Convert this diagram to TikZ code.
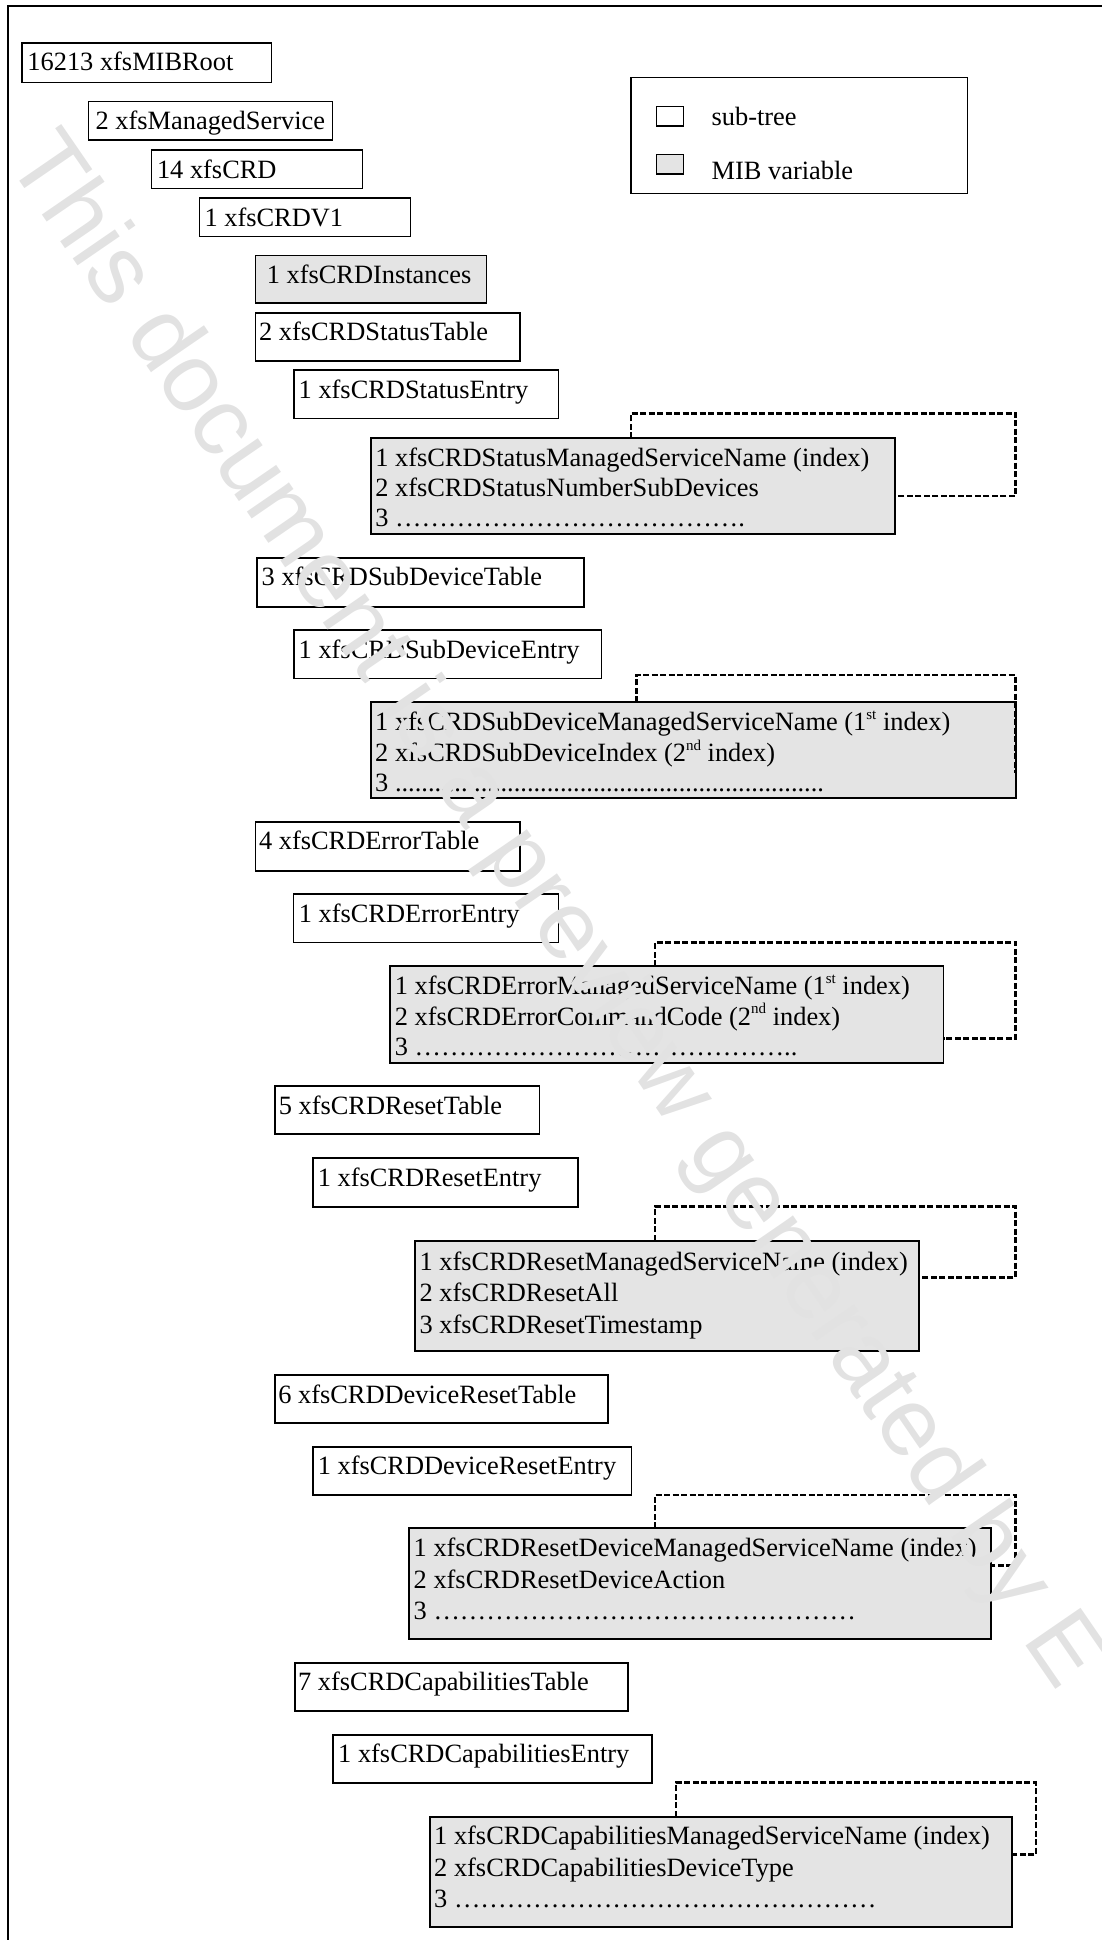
\documentclass[tikz,border=0pt]{standalone}
\usepackage{fontspec}
\setmainfont{Liberation Serif}
\newfontfamily\wmfont{Liberation Sans}
\definecolor{varfill}{RGB}{228,228,228}
\definecolor{wmgray}{RGB}{226,226,226}
\newcommand\tf{\fontsize{26.4}{30}\selectfont}
\newcommand\tfb{\fontsize{26.4}{31.5}\selectfont}
\newcommand\sups[1]{\raisebox{0.42em}{\fontsize{15}{15}\selectfont #1}}
\ExplSyntaxOn
\NewDocumentCommand\Rep{mm}{\prg_replicate:nn{#1}{#2}}
\ExplSyntaxOff
\begin{document}
\begin{tikzpicture}[x=1pt,y=-1pt,
  tbox/.style={draw, line width=1.3pt, fill=white, inner sep=0pt, outer sep=0pt, anchor=north west},
  tboxk/.style={tbox, line width=1.9pt},
  vbox/.style={tboxk, fill=varfill},
  lbl/.style={inner sep=0pt, outer sep=0pt, anchor=base west, font=\tf},
  lblb/.style={lbl, font=\tfb},
  idx/.style={draw, line width=2.6pt, dash pattern=on 6pt off 2.5pt}]
\useasboundingbox (0,0) rectangle (1102,1940);
\clip (0,0) rectangle (1102,1940);
% outer frame
\coordinate (fTR) at (1110,6.3);
\coordinate (fBL) at (7.7,1950);
\draw[line width=2.2pt] (fBL) |- (fTR);

% legend
\node[tbox, minimum width=336.3pt, minimum height=115.6pt] (legend) at (631.1,77.7) {};
\node[tbox, minimum width=27.1pt, minimum height=19.7pt] (lsub) at (656.4,106.3) {};
\node[tbox, fill=varfill, minimum width=27.1pt, minimum height=19.7pt] (lvar) at (656.4,154.3) {};
\node[lbl] (tsub) at (711.6,125) {sub-tree};
\node[lbl] (tvar) at (711.6,179) {MIB variable};

% tree boxes
\node[tbox, minimum width=249.6pt, minimum height=39.3pt] (root) at (22,43) {};
\node[lbl] (troot) at ([xshift=5.4pt,yshift=-28pt]root.north west) {16213 xfsMIBRoot};
\node[tbox, minimum width=244.2pt, minimum height=38.3pt] (ms) at (88.6,101.7) {};
\node[lbl] (tms) at ([xshift=7pt,yshift=-28pt]ms.north west) {2 xfsManagedService};
\node[tbox, minimum width=211pt, minimum height=38.7pt] (crd) at (151.5,150) {};
\node[lbl] (tcrd) at ([xshift=5.5pt,yshift=-28pt]crd.north west) {14 xfsCRD};
\node[tbox, minimum width=211.2pt, minimum height=38.3pt] (v1) at (199.2,198) {};
\node[lbl] (tv1) at ([xshift=5.3pt,yshift=-28pt]v1.north west) {1 xfsCRDV1};
\node[tbox, fill=varfill, minimum width=230.9pt, minimum height=47.7pt] (inst) at (255.8,255.3) {};
\node[lbl] (tinst) at ([xshift=11pt,yshift=-28pt]inst.north west) {1 xfsCRDInstances};

% status
\node[tboxk, minimum width=264.6pt, minimum height=48pt] (stt) at (255.5,312.7) {};
\node[lbl] (tstt) at ([xshift=3.5pt,yshift=-28pt]stt.north west) {2 xfsCRDStatusTable};
\node[tbox, minimum width=264.6pt, minimum height=48.3pt] (ste) at (294.1,370) {};
\node[lbl] (tste) at ([xshift=4.6pt,yshift=-28pt]ste.north west) {1 xfsCRDStatusEntry};
\node[vbox, minimum width=524.4pt, minimum height=96pt] (stv) at (371,438.3) {};
\node[lbl] (tstv) at ([xshift=4.3pt,yshift=-28.5pt]stv.north west) {\begin{tabular}[t]{@{}l@{}}1 xfsCRDStatusManagedServiceName (index)\\2 xfsCRDStatusNumberSubDevices\\3 \Rep{13}{…}.\end{tabular}};
\coordinate (stvA) at (631,413.3);
\coordinate (stvB) at (1015.6,496);
\draw[idx] (stvA |- stv.north) -- (stvA) -| (stvB) -- (stv.east |- stvB);

% sub device
\node[tboxk, minimum width=326.8pt, minimum height=49pt] (sdt) at (256.9,557.7) {};
\node[lbl] (tsdt) at ([xshift=4.8pt,yshift=-28pt]sdt.north west) {3 xfsCRDSubDeviceTable};
\node[tbox, minimum width=307.2pt, minimum height=48.3pt] (sde) at (294.1,630) {};
\node[lbl] (tsde) at ([xshift=4.6pt,yshift=-28pt]sde.north west) {1 xfsCRDSubDeviceEntry};
\node[vbox, minimum width=644.9pt, minimum height=96pt] (sdv) at (370.7,702.3) {};
\node[lbl] (tsdv) at ([xshift=4.5pt,yshift=-28.5pt]sdv.north west) {\begin{tabular}[t]{@{}l@{}}1 xfsCRDSubDeviceManagedServiceName (1\sups{st} index)\\2 xfsCRDSubDeviceIndex (2\sups{nd} index)\\3 \Rep{65}{.}\end{tabular}};
\coordinate (sdvA) at (636.4,675);
\coordinate (sdvB) at (1015.6,773);
\draw[idx] (sdvA |- sdv.north) -- (sdvA) -| (sdvB);

% error
\node[tboxk, minimum width=264.3pt, minimum height=49pt] (ert) at (255.5,821.7) {};
\node[lbl] (tert) at ([xshift=3.5pt,yshift=-28pt]ert.north west) {4 xfsCRDErrorTable};
\node[tbox, minimum width=264.6pt, minimum height=48.7pt] (ere) at (293.8,894) {};
\node[lbl] (tere) at ([xshift=5pt,yshift=-28pt]ere.north west) {1 xfsCRDErrorEntry};
\node[vbox, minimum width=553.7pt, minimum height=96.7pt] (erv) at (389.8,966) {};
\node[lbl] (terv) at ([xshift=5pt,yshift=-28.5pt]erv.north west) {\begin{tabular}[t]{@{}l@{}}1 xfsCRDErrorManagedServiceName (1\sups{st} index)\\2 xfsCRDErrorCommandCode (2\sups{nd} index)\\3 \Rep{14}{…}..\end{tabular}};
\coordinate (ervA) at (654.8,942.3);
\coordinate (ervB) at (1015.6,1038.3);
\draw[idx] (ervA |- erv.north) -- (ervA) -| (ervB) -- (erv.east |- ervB);

% reset
\node[tboxk, minimum width=264.7pt, minimum height=48.3pt] (rst) at (274.8,1086) {};
\node[lbl] (trst) at ([xshift=4pt,yshift=-28pt]rst.north west) {5 xfsCRDResetTable};
\node[tboxk, minimum width=264.6pt, minimum height=48.4pt] (rse) at (313.2,1158.3) {};
\node[lbl] (trse) at ([xshift=4.6pt,yshift=-28pt]rse.north west) {1 xfsCRDResetEntry};
\node[vbox, minimum width=504.3pt, minimum height=110pt] (rsv) at (415,1240.7) {};
\node[lblb] (trsv) at ([xshift=4.6pt,yshift=-29.5pt]rsv.north west) {\begin{tabular}[t]{@{}l@{}}1 xfsCRDResetManagedServiceName (index)\\2 xfsCRDResetAll\\3 xfsCRDResetTimestamp\end{tabular}};
\coordinate (rsvA) at (655,1206.7);
\coordinate (rsvB) at (1015.6,1277.3);
\draw[idx] (rsvA |- rsv.north) -- (rsvA) -| (rsvB) -- (rsv.east |- rsvB);

% device reset
\node[tboxk, minimum width=332.8pt, minimum height=48pt] (drt) at (274.8,1375) {};
\node[lbl] (tdrt) at ([xshift=3.5pt,yshift=-28pt]drt.north west) {6 xfsCRDDeviceResetTable};
\node[tboxk, minimum width=318.3pt, minimum height=48.3pt] (dre) at (313.2,1446.7) {};
\node[lbl] (tdre) at ([xshift=4.6pt,yshift=-28pt]dre.north west) {1 xfsCRDDeviceResetEntry};
\node[vbox, minimum width=582.3pt, minimum height=110.7pt] (drv) at (409,1528.3) {};
\node[lblb] (tdrv) at ([xshift=4.7pt,yshift=-28.5pt]drv.north west) {\begin{tabular}[t]{@{}l@{}}1 xfsCRDResetDeviceManagedServiceName (index)\\2 xfsCRDResetDeviceAction\\3 \Rep{16}{…}\end{tabular}};
\coordinate (drvA) at (655,1495);
\coordinate (drvB) at (1015.6,1565.3);
\draw[idx] (drvA |- drv.north) -- (drvA) -| (drvB) -- (drv.east |- drvB);

% capabilities
\node[tboxk, minimum width=333.5pt, minimum height=48.3pt] (cpt) at (294.6,1662.7) {};
\node[lbl] (tcpt) at ([xshift=3.5pt,yshift=-28pt]cpt.north west) {7 xfsCRDCapabilitiesTable};
\node[tboxk, minimum width=319.1pt, minimum height=48.6pt] (cpe) at (333.3,1734.7) {};
\node[lbl] (tcpe) at ([xshift=4.9pt,yshift=-28pt]cpe.north west) {1 xfsCRDCapabilitiesEntry};
\node[vbox, minimum width=582.1pt, minimum height=110.6pt] (cpv) at (429.6,1816.7) {};
\node[lblb] (tcpv) at ([xshift=4.6pt,yshift=-27.8pt]cpv.north west) {\begin{tabular}[t]{@{}l@{}}1 xfsCRDCapabilitiesManagedServiceName (index)\\2 xfsCRDCapabilitiesDeviceType\\3 \Rep{16}{…}\end{tabular}};
\coordinate (cpvA) at (675.8,1782.7);
\coordinate (cpvB) at (1036,1854.3);
\draw[idx] (cpvA |- cpv.north) -- (cpvA) -| (cpvB) -- (cpv.east |- cpvB);

% watermark
\node[anchor=base west, inner sep=0pt, rotate=-55.5, text=wmgray, font=\wmfont\fontsize{97}{97}\selectfont] (wm) at (5,160) {This document is a preview generated by E};
\end{tikzpicture}
\end{document}
